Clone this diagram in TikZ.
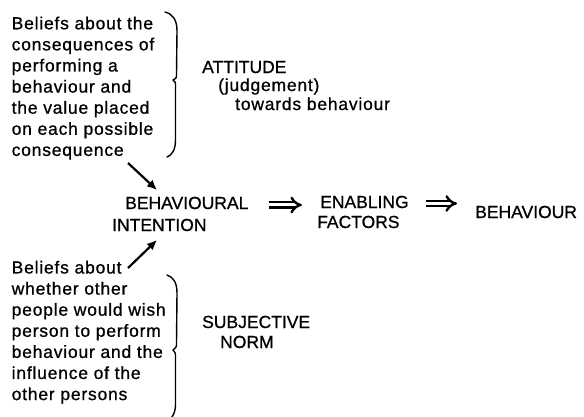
\documentclass[tikz,border=0pt]{standalone}
\usepackage{fontspec}
\setmainfont{Liberation Sans}[FakeBold=0.8]
\usetikzlibrary{arrows.meta,calc}
\begin{document}
\begin{tikzpicture}[x=1pt,y=-1pt,
  lbl/.style={inner sep=0pt, anchor=base west, font=\fontsize{17.5}{21.1}\selectfont},
  lows/.style={inner sep=0pt, anchor=base west, font=\fontsize{17.5}{21.1}\selectfont\addfontfeatures{LetterSpace=4.5}},
  blk/.style={inner sep=0pt, anchor=north west, align=left, font=\fontsize{17.5}{21.1}\selectfont\addfontfeatures{LetterSpace=4.5}},
  brace/.style={line width=1.4pt, line cap=round, line join=round},
  sarr/.style={line width=2.2pt, -{Latex[length=10pt,width=9pt]}},
  darr/.style={double, double distance=3pt, line width=2.4pt, -{Implies}}]
\useasboundingbox (0,0) rectangle (584,416);

% top beliefs block
\node[blk] (tb) at (11.5,16.4) {Beliefs about the\\consequences of\\performing a\\behaviour and\\the value placed\\on each possible\\consequence};
% bottom beliefs block
\node[blk] (bb) at (11.5,260.6) {Beliefs about\\whether other\\people would wish\\person to perform\\behaviour and the\\influence of the\\other persons};

% braces
\draw[brace] (165,12) .. controls (173,14) and (177,20) .. (177,31) -- (176.5,74)
  .. controls (176.5,78) .. (173,80) .. controls (175.5,82) .. (175.5,86) -- (175.5,140)
  .. controls (175.5,150) and (172,155) .. (167,157);
\draw[brace] (167,275) .. controls (173,277) and (177,282) .. (177,293) -- (176.5,343)
  .. controls (176.5,347) .. (173,350) .. controls (175.5,353) .. (175.5,357) -- (175.5,405)
  .. controls (175.5,410) and (174,414) .. (172,417);

% attitude
\node[lbl] (att) at (202,73) {ATTITUDE};
\node[lows] (jud) at (218,91) {(judgement)};
\node[lows] (tow) at (235,110) {towards behaviour};

% subjective norm
\node[lbl] (sub) at (202,328) {SUBJECTIVE};
\node[lbl] (nrm) at (220,348) {NORM};

% middle row
\node[lbl] (beh) at (125,209) {BEHAVIOURAL};
\node[lbl] (int) at (112,231) {INTENTION};
\node[lbl] (en) at (320,208) {ENABLING};
\node[lbl] (fac) at (317,228) {FACTORS};
\node[lbl] (bhv) at (475,218) {BEHAVIOUR};

% single arrows
\coordinate (a1s) at (128,163);
\coordinate (a1e) at (157,190);
\coordinate (a2s) at (128,268);
\coordinate (a2e) at (157,240);
\draw[sarr] (a1s) -- (a1e);
\draw[sarr] (a2s) -- (a2e);

% double arrows
\draw[darr, shorten <=20pt, shorten >=18pt] ($(beh.east)+(0,2)$) -- ($(en.west |- beh.east)+(0,2)$);
\draw[darr, shorten <=17pt, shorten >=18pt] ($(en.east)+(0,1.5)$) -- ($(bhv.west |- en.east)+(0,1.5)$);
\end{tikzpicture}
\end{document}
